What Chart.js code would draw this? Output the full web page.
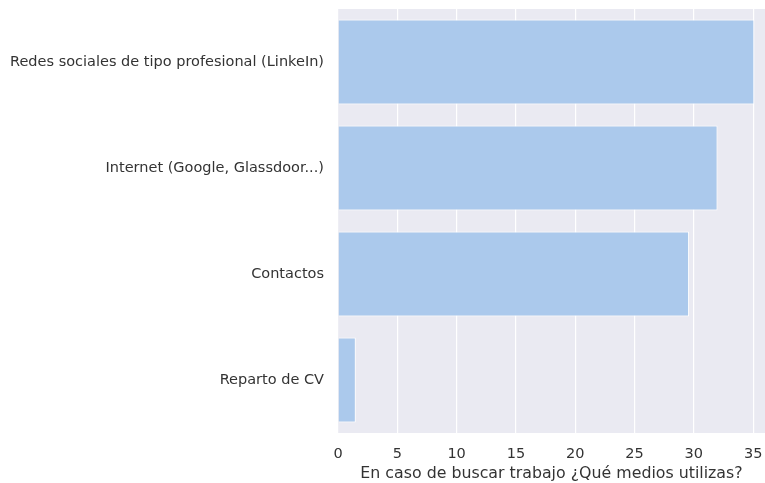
<!DOCTYPE html>
<html lang="es">
<head>
    <meta charset="UTF-8">
    <title>Medios para buscar trabajo</title>
    <script src="https://cdn.jsdelivr.net/npm/chart.js"></script>
    <style>
        html, body {
            margin: 0;
            padding: 0;
            background: #fff;
        }
        #wrap {
            width: 765px;
            height: 483px;
        }
    </style>
</head>
<body>
    <div id="wrap"><canvas id="chart" width="765" height="483"></canvas></div>

    <script>
        const categories = [
            'Redes sociales de tipo profesional (LinkeIn)',
            'Internet (Google, Glassdoor...)',
            'Contactos',
            'Reparto de CV'
        ];
        const values = [35.1, 32.0, 29.6, 1.5];
        const xTicks = [0, 5, 10, 15, 20, 25, 30, 35];
        const xTitle = 'En caso de buscar trabajo ¿Qué medios utilizas?';

        // grey plot background like seaborn's darkgrid
        const plotBackground = {
            id: 'plotBackground',
            beforeDraw(chart) {
                const { ctx, chartArea: a } = chart;
                ctx.save();
                ctx.fillStyle = '#eaeaf2';
                ctx.fillRect(a.left, a.top, a.right - a.left, a.bottom - a.top);
                ctx.restore();
            }
        };

        const textColor = '#333333';
        const labelFont = { family: 'DejaVu Sans', size: 14.5 };

        new Chart(document.getElementById('chart'), {
            type: 'bar',
            data: {
                labels: categories,
                datasets: [{
                    data: values,
                    backgroundColor: '#abc9ec',
                    borderColor: '#ffffff',
                    borderWidth: 1,
                    barPercentage: 0.8,
                    categoryPercentage: 1.0
                }]
            },
            options: {
                indexAxis: 'y',
                responsive: false,
                animation: false,
                layout: { padding: { top: 9, right: 0, left: 0, bottom: 0 } },
                plugins: {
                    legend: { display: false },
                    tooltip: { enabled: false }
                },
                scales: {
                    x: {
                        min: 0,
                        max: 36,
                        border: { display: false },
                        grid: { color: '#ffffff', lineWidth: 1.2, drawTicks: false },
                        afterBuildTicks(scale) {
                            scale.ticks = xTicks.map(v => ({ value: v }));
                        },
                        afterFit(scale) {
                            scale.height = 50;
                            scale.paddingLeft = 0;
                            scale.paddingRight = 0;
                        },
                        ticks: {
                            padding: 13,
                            color: textColor,
                            font: labelFont
                        },
                        title: {
                            display: true,
                            text: xTitle,
                            color: textColor,
                            padding: { top: 0, bottom: 0 },
                            font: { family: 'DejaVu Sans', size: 15.8 }
                        }
                    },
                    y: {
                        border: { display: false },
                        grid: { display: false },
                        afterFit(scale) {
                            scale.width = 338;
                            scale.paddingTop = 0;
                            scale.paddingBottom = 0;
                        },
                        ticks: {
                            padding: 6,
                            color: textColor,
                            font: labelFont
                        }
                    }
                }
            },
            plugins: [plotBackground]
        });
    </script>
</body>
</html>
